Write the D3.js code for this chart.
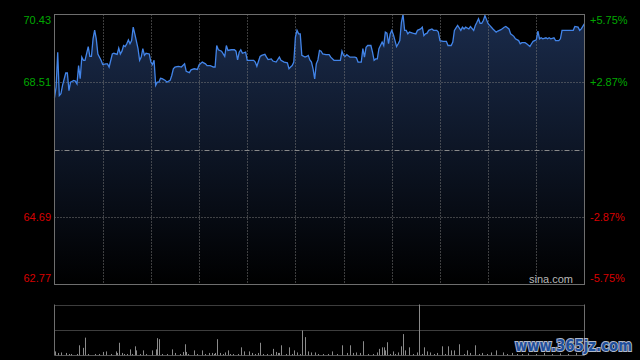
<!DOCTYPE html>
<html>
<head>
<meta charset="utf-8">
<script src="https://cdn.jsdelivr.net/npm/d3@7"></script>
<style>
  html, body { margin: 0; padding: 0; background: #000; }
  svg { display: block; }
</style>
</head>
<body>
<div id="chart"></div>
<script>
// intraday minutes from the open (HK session, 330 trading minutes)
const minutes = [0,1,2,3,4,5,7,8,9,10,12,13,14,15,16,17,18,19,21,22,23,24,25,26,27,29,30,32,33,34,36,37,39,40,41,42,43,44,45,46,47,48,49,50,52,53,54,55,56,57,59,60,61,62,63,64,
  65,66,67,69,70,72,73,74,75,77,78,79,81,82,84,85,87,89,90,92,94,95,97,99,100,101,102,104,106,107,108,110,112,113,114,115,116,117,119,120,121,124,125,126,128,129,
  131,132,133,135,136,138,140,141,143,145,146,147,148,149,150,151,152,153,154,156,157,158,159,160,161,162,163,164,165,166,167,169,171,172,174,177,178,179,180,181,182,184,187,188,189,191,192,193,194,195,
  197,198,199,200,201,202,204,205,206,207,208,209,210,211,213,214,215,216,217,218,219,220,221,223,225,226,228,229,230,231,232,233,235,236,238,239,240,242,244,245,247,248,249,250,251,253,254,255,256,258,259,261,262,
  263,264,265,266,267,268,270,271,273,275,276,278,280,281,283,284,286,287,289,290,291,293,294,296,297,298,300,301,302,303,304,306,307,308,309,311,312,314,315,316,318,321,323,324,326,327,328,330]
const prices = [68.07,68.37,69.36,68.13,68.18,68.42,68.77,68.77,68.27,68.51,68.56,68.54,68.46,68.98,68.61,69.22,69.13,69.13,69.52,69.24,69.24,69.74,69.99,69.74,69.31,69.13,69.01,69.03,69.03,68.94,69.31,69.33,69.30,69.48,69.31,69.39,69.55,69.52,69.60,69.71,69.60,69.69,70.07,69.88,69.46,69.13,69.22,69.46,69.27,69.33,69.31,69.08,69.01,69.13,68.42,68.51,
  68.51,68.62,68.61,68.56,68.51,68.56,68.70,68.89,68.94,68.96,68.95,68.94,69.03,68.82,68.78,68.86,68.89,68.87,69.00,69.08,69.03,68.98,68.98,68.94,68.94,69.55,69.43,69.39,69.24,69.55,69.41,69.43,69.43,69.39,69.14,69.36,69.43,69.33,69.36,69.13,69.13,69.13,69.08,68.96,69.24,69.27,
  69.30,69.22,69.15,69.17,69.11,69.08,69.22,69.13,69.08,69.06,68.89,68.94,68.98,69.08,69.79,69.98,69.88,69.88,69.27,69.22,69.24,69.27,69.14,69.08,68.89,68.60,69.03,69.14,69.41,69.39,69.31,69.29,69.29,69.22,69.13,69.13,69.13,69.39,69.27,69.24,69.29,69.22,69.22,69.20,69.08,69.08,69.46,69.22,69.50,69.55,
  69.55,69.36,69.13,69.17,69.17,69.46,69.65,69.55,69.93,69.90,69.60,69.88,69.98,69.86,69.52,69.60,69.69,70.21,70.43,69.98,69.98,69.88,69.93,69.90,69.88,69.98,70.02,70.07,69.83,69.88,69.90,69.98,70.02,69.98,69.98,69.93,69.69,69.67,69.67,69.55,69.55,69.65,69.98,70.05,70.12,69.98,70.07,70.02,70.07,70.02,70.09,69.98,70.12,
  70.21,70.31,70.18,70.18,70.26,70.40,70.17,70.12,70.02,69.93,69.96,70.00,70.07,70.09,70.02,69.88,69.81,69.74,69.69,69.60,69.63,69.63,69.60,69.52,69.60,69.67,69.71,69.96,69.74,69.77,69.74,69.77,69.74,69.77,69.74,69.77,69.69,69.69,69.74,69.98,69.98,69.98,69.98,70.09,70.07,69.98,70.02,70.17]

const volMinutes = [0,2,4,7,9,10,14,15,18,19,21,25,28,30,32,35,38,39,40,42,43,45,47,48,50,51,53,55,57,61,63,64,65,67,70,73,75,78,80,81,82,83,87,89,92,94,96,98,99,100,101,103,105,106,108,109,111,114,116,118,121,123,125,127,128,130,132,135,136,138,139,140,141,144,146,148,149,151,153,154,156,158,160,162,164,
  167,170,173,176,179,182,184,186,188,190,192,195,198,201,202,204,205,206,207,209,211,212,214,216,217,218,221,223,226,227,229,230,232,234,236,238,241,243,245,247,249,252,255,257,259,262,264,266,269,272,275,279,282,285,288,291,295,300,305,310,315,320,325,329]
const volumes = [8,5,6,5,3,3,3,20,15,35,3,3,3,7,8,3,8,5,25,5,3,3,12,3,18,10,3,10,3,10,12,34,32,3,3,12,5,3,7,22,7,3,10,3,10,3,5,5,3,5,32,5,3,6,10,3,3,3,16,8,8,5,3,5,25,3,3,3,13,7,5,5,20,3,16,3,10,6,3,49,36,8,6,6,3,
  3,3,8,3,20,5,20,5,6,5,28,3,3,6,13,16,16,10,26,3,8,3,6,18,42,10,16,3,6,160,3,16,8,6,3,5,18,3,18,10,10,22,3,10,5,20,3,5,3,6,10,6,3,5,3,3,4,3,5,3,4,3,5,4]

const prevClose = 66.60
const priceTicks = [70.43, 68.51, 64.69, 62.77]
const pctTicks = ['+5.75%', '+2.87%', '-2.87%', '-5.75%']
const volMax = 100

const W = 640, H = 360
const main = {left: 54.5, right: 584.5, top: 14.5, bottom: 284.5}
const vol = {top: 304.5, bottom: 355.5}

const svg = d3.select('#chart').append('svg')
  .attr('width', W).attr('height', H)
svg.append('rect').attr('width', W).attr('height', H).attr('fill', '#000')

const x = d3.scaleLinear().domain([0, 330]).range([main.left, main.right])
const y = d3.scaleLinear().domain([62.77, 70.43]).range([main.bottom, main.top])
const yv = d3.scaleLinear().domain([0, volMax]).range([vol.bottom, vol.top])

const data = minutes.map((m, i) => ({m: m, p: prices[i]}))

// area gradient
const defs = svg.append('defs')
const grad = defs.append('linearGradient')
  .attr('id', 'fillGrad').attr('gradientUnits', 'userSpaceOnUse')
  .attr('x1', 0).attr('x2', 0).attr('y1', main.top).attr('y2', main.bottom)
grad.append('stop').attr('offset', '0%').attr('stop-color', '#1a2b4b')
grad.append('stop').attr('offset', '100%').attr('stop-color', '#000000')
defs.append('clipPath').attr('id', 'volClip')
  .append('rect').attr('x', main.left).attr('y', vol.top)
  .attr('width', main.right - main.left).attr('height', vol.bottom - vol.top)

const area = d3.area().x(d => x(d.m)).y0(main.bottom).y1(d => y(d.p))
svg.append('path').datum(data).attr('d', area).attr('fill', 'url(#fillGrad)')

// grid
const gridColor = '#7a7a7a'
const vTicks = d3.range(30, 330, 30)
svg.append('g').selectAll('line').data(vTicks).join('line')
  .attr('x1', d => Math.round(x(d)) + 0.5).attr('x2', d => Math.round(x(d)) + 0.5)
  .attr('y1', main.top).attr('y2', main.bottom)
  .attr('stroke', gridColor).attr('stroke-dasharray', '1,2')
svg.append('g').selectAll('line').data([priceTicks[1], priceTicks[2]]).join('line')
  .attr('x1', main.left).attr('x2', main.right)
  .attr('y1', d => Math.round(y(d)) + 0.5).attr('y2', d => Math.round(y(d)) + 0.5)
  .attr('stroke', gridColor).attr('stroke-dasharray', '1,2')
svg.append('line')
  .attr('x1', main.left).attr('x2', main.right)
  .attr('y1', Math.round(y(prevClose)) + 0.5).attr('y2', Math.round(y(prevClose)) + 0.5)
  .attr('stroke', '#8a8a8a').attr('stroke-dasharray', '5,2,1,2')

// price line
const line = d3.line().x(d => x(d.m)).y(d => y(d.p))
svg.append('path').datum(data).attr('d', line)
  .attr('fill', 'none').attr('stroke', '#4284e8').attr('stroke-width', 1.3)

// frame
svg.append('rect').attr('x', main.left).attr('y', main.top)
  .attr('width', main.right - main.left).attr('height', main.bottom - main.top)
  .attr('fill', 'none').attr('stroke', '#6e6e6e')

// labels
const labelY = v => Math.max(main.top + 6, Math.min(main.bottom - 6, y(v)))
const labelColor = (d, i) => i < 2 ? '#00a800' : '#d80000'
svg.append('g').selectAll('text').data(priceTicks).join('text')
  .attr('x', 51).attr('y', d => labelY(d)).attr('dy', '0.35em')
  .attr('text-anchor', 'end').attr('font-family', 'Liberation Sans, Arial, sans-serif')
  .attr('font-size', 11).attr('fill', labelColor)
  .text(d => d.toFixed(2))
svg.append('g').selectAll('text').data(pctTicks).join('text')
  .attr('x', 590).attr('y', (d, i) => labelY(priceTicks[i])).attr('dy', '0.35em')
  .attr('font-family', 'Liberation Sans, Arial, sans-serif')
  .attr('font-size', 11).attr('fill', labelColor)
  .text(d => d)

svg.append('text').attr('x', 573).attr('y', 283).attr('text-anchor', 'end')
  .attr('font-family', 'Liberation Sans, Arial, sans-serif').attr('font-size', 11)
  .attr('fill', '#b8b8b8').text('sina.com')

// volume panel
svg.append('g').selectAll('line').data([volMax, volMax / 2]).join('line')
  .attr('x1', main.left).attr('x2', main.right)
  .attr('y1', d => Math.round(yv(d)) + 0.5).attr('y2', d => Math.round(yv(d)) + 0.5)
  .attr('stroke', gridColor).attr('stroke-dasharray', '1,1')
svg.append('g').selectAll('line').data([main.left, main.right]).join('line')
  .attr('x1', d => d).attr('x2', d => d).attr('y1', vol.top).attr('y2', vol.bottom)
  .attr('stroke', '#6e6e6e')
svg.append('line').attr('x1', main.left).attr('x2', main.right)
  .attr('y1', vol.bottom).attr('y2', vol.bottom).attr('stroke', '#555')

svg.append('g').attr('clip-path', 'url(#volClip)')
  .selectAll('line').data(volMinutes).join('line')
  .attr('x1', d => Math.round(x(d)) + 0.5).attr('x2', d => Math.round(x(d)) + 0.5)
  .attr('y1', vol.bottom).attr('y2', (d, i) => yv(volumes[i]))
  .attr('stroke', '#8a8a8a')

// watermark
svg.append('text').attr('x', 515).attr('y', 351)
  .attr('font-family', 'DejaVu Sans, sans-serif').attr('font-weight', 'bold')
  .attr('font-size', 15).attr('textLength', 117).attr('lengthAdjust', 'spacingAndGlyphs')
  .attr('fill', '#1f4f9c').attr('stroke', '#b0b8c8').attr('stroke-width', 2)
  .attr('paint-order', 'stroke')
  .text('www.365jz.com')
</script>
</body>
</html>
